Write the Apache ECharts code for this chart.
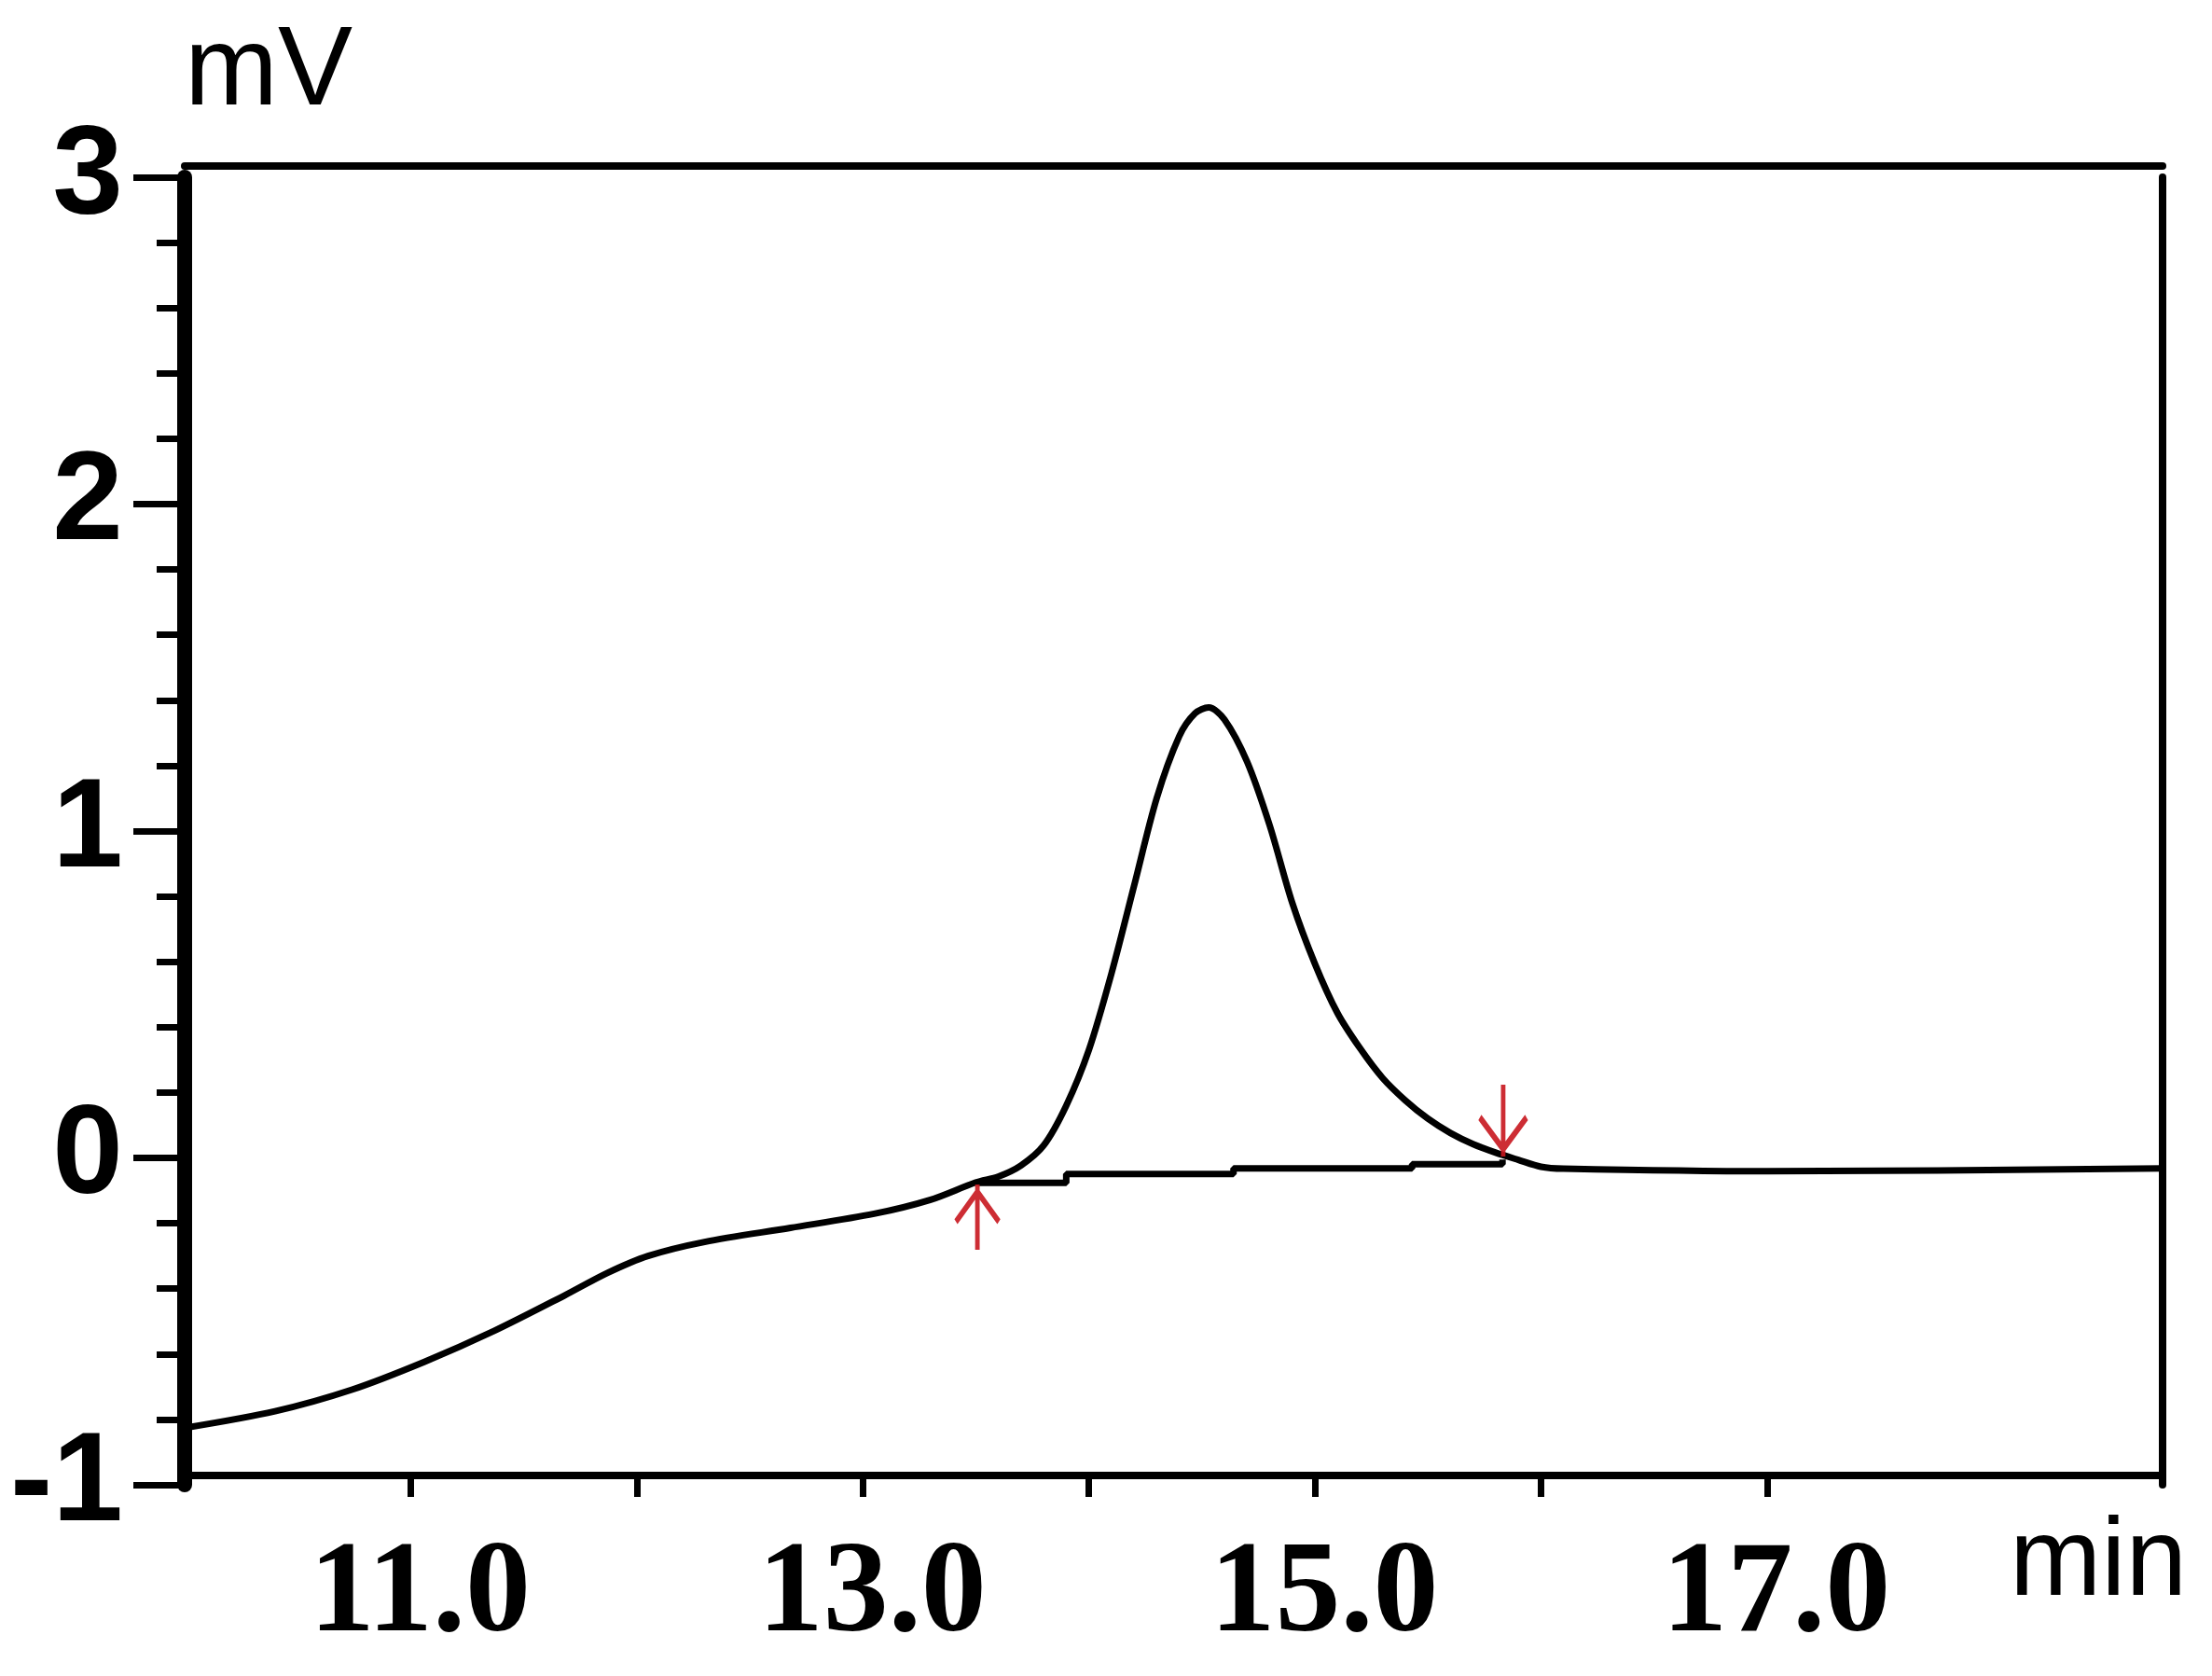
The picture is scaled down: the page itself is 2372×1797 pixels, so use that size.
<!DOCTYPE html>
<html>
<head>
<meta charset="utf-8">
<script src="https://cdn.jsdelivr.net/npm/echarts@6/dist/echarts.min.js"></script>
<style>
html,body{margin:0;padding:0;background:#ffffff;}
#chart{width:2372px;height:1797px;}
</style>
</head>
<body>
<div id="chart"></div>
<script>
// ---- data ----
const signalTrace = [
  [10.00,-0.826],[10.40,-0.775],[10.74,-0.709],[11.06,-0.624],[11.37,-0.529],
  [11.68,-0.421],[11.87,-0.352],[12.05,-0.300],[12.30,-0.257],[12.68,-0.214],
  [13.05,-0.171],[13.30,-0.128],[13.50,-0.075],[13.60,-0.057],[13.70,-0.023],
  [13.80,0.038],[13.90,0.160],[14.00,0.330],[14.10,0.564],[14.20,0.832],
  [14.30,1.100],[14.40,1.290],[14.47,1.360],[14.53,1.378],[14.60,1.341],
  [14.70,1.212],[14.80,1.017],[14.90,0.780],[15.00,0.594],[15.10,0.443],
  [15.20,0.335],[15.30,0.244],[15.40,0.176],[15.50,0.120],[15.60,0.076],
  [15.70,0.042],[15.80,0.016],[15.90,-0.006],[16.00,-0.027],[16.10,-0.033],
  [17.00,-0.041],[18.75,-0.032]
];
const integrationBaseline = [
  [13.51,-0.076],[13.90,-0.049],[14.64,-0.032],[15.43,-0.019],[15.83,-0.005]
];
const peakStartMark = [[13.507,-0.081]];
const peakEndMark = [[15.833,0.004]];
const xTickValues = [11,12,13,14,15,16,17];
const xLabelValues = [11,13,15,17];
const xRange = [10, 18.75];
const yRange = [-1, 3];
const xUnit = 'min';
const yUnit = 'mV';

// ---- chart ----
const chart = echarts.init(document.getElementById('chart'), null, {renderer:'canvas'});
const black = '#000000';
const red = '#c8161e';

const option = {
  backgroundColor: '#ffffff',
  animation: false,
  grid: {left: 198, right: 53, top: 190, bottom: 205, containLabel: false, outerBoundsMode: 'none'},
  xAxis: [
    {
      type: 'value', position: 'bottom', offset: -10,
      min: xRange[0], max: xRange[1],
      name: xUnit, nameLocation: 'end', nameGap: -69,
      nameTextStyle: {fontFamily: 'Liberation Sans', fontSize: 118, color: black,
        align: 'center', verticalAlign: 'top', padding: [36,0,0,0]},
      axisLine: {onZero: false, lineStyle: {color: black, width: 8}},
      axisTick: {show: true, customValues: xTickValues, length: 23, inside: false,
        lineStyle: {color: black, width: 7}},
      axisLabel: {show: true, customValues: xLabelValues, margin: 60,
        formatter: v => Number(v).toFixed(1),
        fontFamily: 'Liberation Serif', fontWeight: 'bold', fontSize: 140, color: black,
        padding: [0,0,0,20]},
      splitLine: {show: false}, minorTick: {show: false}
    },
    {
      type: 'value', position: 'top', offset: 12,
      min: xRange[0], max: xRange[1],
      axisLine: {onZero: false, lineStyle: {color: black, width: 8}},
      axisTick: {show: false}, axisLabel: {show: false}, splitLine: {show: false}
    }
  ],
  yAxis: [
    {
      type: 'value', position: 'left',
      min: yRange[0], max: yRange[1], interval: 1,
      name: yUnit, nameLocation: 'end', nameGap: 51,
      nameTextStyle: {fontFamily: 'Liberation Sans', fontSize: 120, color: black,
        align: 'left', verticalAlign: 'bottom'},
      axisLine: {onZero: false, lineStyle: {color: black, width: 16}},
      axisTick: {show: true, length: 55, lineStyle: {color: black, width: 7}},
      minorTick: {show: true, splitNumber: 5, length: 30, lineStyle: {color: black, width: 7}},
      axisLabel: {show: true, margin: 66,
        fontFamily: 'Liberation Sans', fontWeight: 'bold', fontSize: 136, color: black},
      splitLine: {show: false}, minorSplitLine: {show: false}
    },
    {
      type: 'value', position: 'right',
      min: yRange[0], max: yRange[1],
      axisLine: {show: true, onZero: false, lineStyle: {color: black, width: 8}},
      axisTick: {show: false}, axisLabel: {show: false}, splitLine: {show: false}
    }
  ],
  series: [
    {
      name: 'signal', type: 'line', xAxisIndex: 0, yAxisIndex: 0,
      data: signalTrace, showSymbol: false, symbol: 'none', smooth: 0.3,
      lineStyle: {color: black, width: 7}, z: 3
    },
    {
      name: 'baseline', type: 'line', xAxisIndex: 0, yAxisIndex: 0,
      data: integrationBaseline, showSymbol: false, symbol: 'none', step: 'end',
      lineStyle: {color: black, width: 7}, z: 3
    },
    {
      name: 'peak start', type: 'scatter', xAxisIndex: 0, yAxisIndex: 0,
      data: peakStartMark,
      symbol: 'path://M23 0 L23 70 M23 8 L0 40 M23 8 L46 40',
      symbolSize: [46, 70], symbolOffset: [0, 35],
      itemStyle: {color: 'none', borderColor: red, borderWidth: 6, opacity: 0.9}, z: 4
    },
    {
      name: 'peak end', type: 'scatter', xAxisIndex: 0, yAxisIndex: 0,
      data: peakEndMark,
      symbol: 'path://M25 0 L25 77 M25 69 L0 35 M25 69 L50 35',
      symbolSize: [50, 77], symbolOffset: [0, -38.5],
      itemStyle: {color: 'none', borderColor: red, borderWidth: 6, opacity: 0.9}, z: 4
    }
  ]
};
chart.setOption(option);
</script>
</body>
</html>
